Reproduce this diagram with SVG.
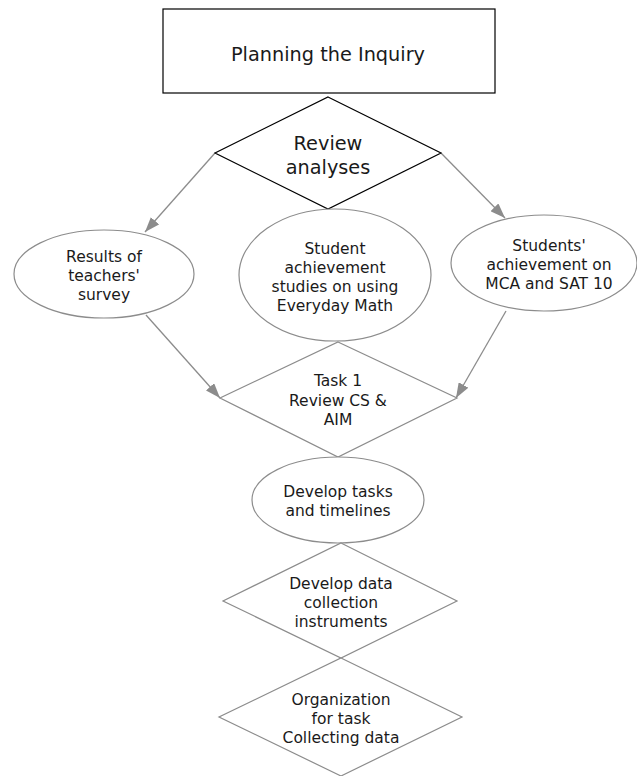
<svg xmlns="http://www.w3.org/2000/svg" width="637" height="776" viewBox="0 0 637 776">
  <style>
    .box { fill: #ffffff; stroke: #000000; stroke-width: 1.2; }
    .shape { fill: #ffffff; stroke: #8c8c8c; stroke-width: 1.2; }
    .link { fill: none; stroke: #8c8c8c; stroke-width: 1.3; }
    text { font-family: "DejaVu Sans", Verdana, sans-serif; fill: #1a1a1a; text-anchor: middle; }
    .big { font-size: 19.3px; }
    .small { font-size: 15.5px; }
  </style>
  <defs>
    <marker id="arrow" viewBox="0 0 15 11" refX="15" refY="5.5" markerWidth="15" markerHeight="11" markerUnits="userSpaceOnUse" orient="auto">
      <path d="M0,0 L15,5.5 L0,11 Z" fill="#8c8c8c"/>
    </marker>
  </defs>

  <rect width="637" height="776" fill="#ffffff"/>

  <!-- connectors -->
  <g id="connectors">
    <line class="link" x1="215" y1="153" x2="145" y2="232" marker-end="url(#arrow)"/>
    <line class="link" x1="441" y1="153" x2="505" y2="218" marker-end="url(#arrow)"/>
    <line class="link" x1="146" y1="315" x2="220" y2="398" marker-end="url(#arrow)"/>
    <line class="link" x1="506" y1="311" x2="456" y2="398" marker-end="url(#arrow)"/>
  </g>

  <g id="planning">
    <rect class="box" x="163" y="9" width="332" height="84"/>
    <text class="big" x="328" y="61">Planning the Inquiry</text>
  </g>

  <g id="review">
    <polygon class="box" points="328,97 441,153 328,209 215,153"/>
    <text class="big" x="328" y="150">Review</text>
    <text class="big" x="328" y="174">analyses</text>
  </g>

  <g id="results">
    <ellipse class="shape" cx="104" cy="274" rx="90" ry="44"/>
    <text class="small" x="104" y="261.5">Results of</text>
    <text class="small" x="104" y="280.5">teachers'</text>
    <text class="small" x="104" y="299.5">survey</text>
  </g>

  <g id="studies">
    <ellipse class="shape" cx="335" cy="275" rx="96" ry="66"/>
    <text class="small" x="335" y="253.5">Student</text>
    <text class="small" x="335" y="272.5">achievement</text>
    <text class="small" x="335" y="291.5">studies on using</text>
    <text class="small" x="335" y="310.5">Everyday Math</text>
  </g>

  <g id="achievement">
    <ellipse class="shape" cx="544" cy="263" rx="93" ry="48"/>
    <text class="small" x="549" y="250.5">Students'</text>
    <text class="small" x="549" y="269.5">achievement on</text>
    <text class="small" x="549" y="288.5">MCA and SAT 10</text>
  </g>

  <g id="task1">
    <polygon class="shape" points="338,342 457,398 338,457 220,398"/>
    <text class="small" x="338" y="385.5">Task 1</text>
    <text class="small" x="338" y="405.5">Review CS &amp;</text>
    <text class="small" x="338" y="424.5">AIM</text>
  </g>

  <g id="tasks">
    <ellipse class="shape" cx="338" cy="500" rx="86" ry="43"/>
    <text class="small" x="338" y="496.5">Develop tasks</text>
    <text class="small" x="338" y="515.5">and timelines</text>
  </g>

  <g id="instruments">
    <polygon class="shape" points="341,543 457,601 341,658 223,601"/>
    <text class="small" x="341" y="588.5">Develop data</text>
    <text class="small" x="341" y="607.5">collection</text>
    <text class="small" x="341" y="626.5">instruments</text>
  </g>

  <g id="organization">
    <polygon class="shape" points="341,658 462,717 341,776 219,717"/>
    <text class="small" x="341" y="704.5">Organization</text>
    <text class="small" x="341" y="723.5">for task</text>
    <text class="small" x="341" y="742.5">Collecting data</text>
  </g>
</svg>
